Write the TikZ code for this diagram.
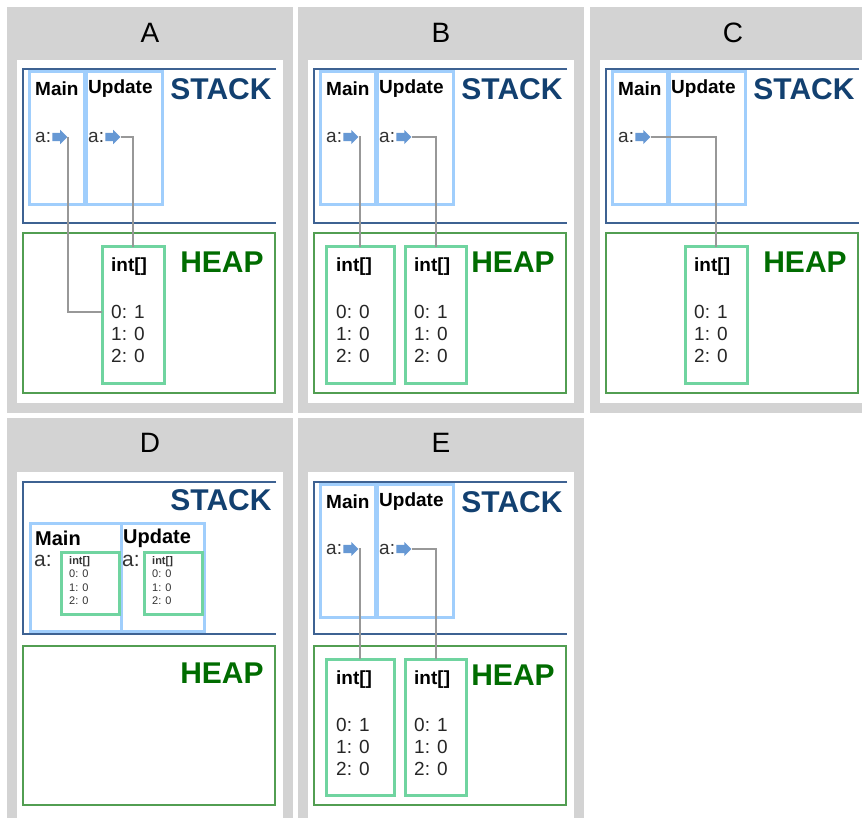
\documentclass[tikz,border=0pt]{standalone}
\usepackage{fontspec}
\setmainfont{Liberation Sans}
\usepackage{xcolor}
\usetikzlibrary{shapes,arrows,positioning,calc}
\definecolor{panelgray}{RGB}{211,211,211}
\definecolor{stackline}{RGB}{62,98,146}
\definecolor{stacktext}{RGB}{18,64,112}
\definecolor{framelight}{RGB}{160,206,252}
\definecolor{heapline}{RGB}{82,158,82}
\definecolor{heaptext}{RGB}{0,108,0}
\definecolor{intgreen}{RGB}{112,212,160}
\definecolor{ptrgray}{RGB}{152,152,152}
\definecolor{ptrblue}{RGB}{102,152,212}

\begin{document}
\begin{tikzpicture}[
    x=1pt, y=-1pt,
    panelbg/.style={fill=panelgray},
    paneltitle/.style={font=\fontsize{28}{32}\selectfont, inner sep=0},
    stackbox/.style={draw=stackline, line width=2pt},
    heapbox/.style={draw=heapline, line width=2pt},
    stacklbl/.style={font=\fontsize{30}{34}\selectfont\bfseries, text=stacktext, inner sep=0},
    heaplbl/.style={font=\fontsize{30}{34}\selectfont\bfseries, text=heaptext, inner sep=0},
    frame/.style={rectangle, draw=framelight, line width=3pt, outer sep=0},
    framelbl/.style={font=\fontsize{19}{22}\selectfont\bfseries, inner sep=0, anchor=west},
    varlbl/.style={font=\fontsize{19}{22}\selectfont, inner sep=0, anchor=west, text=black!80},
    ptrarrow/.style={single arrow, fill=ptrblue, draw=none, inner sep=0pt, text width=0pt, text height=4pt, text depth=4pt, minimum height=15pt, single arrow head extend=3pt},
    intbox/.style={rectangle, draw=intgreen, line width=3pt, outer sep=0, minimum height=136pt},
    intlbl/.style={font=\fontsize{19}{22}\selectfont\bfseries, inner sep=0, anchor=west},
    cell/.style={font=\fontsize{19}{22}\selectfont, inner sep=0, anchor=west, text=black!85},
    minibox/.style={rectangle, draw=intgreen, line width=3pt, outer sep=0, minimum width=58pt, minimum height=62pt},
    minicell/.style={font=\fontsize{11}{13.5}\selectfont, inner sep=0, anchor=north west, align=left, text=black!80},
    ptr/.style={draw=ptrgray, line width=2pt}
]
\useasboundingbox (0,0) rectangle (862,818);
\clip (0,0) rectangle (862,818);
\fill[white] (0,0) rectangle (862,818);

% ---------------- Panel A ----------------
\begin{scope}[shift={(7,7)}]
\fill[panelbg] (0,0) rectangle (286,406);
\fill[white] (10,53) rectangle (276,396);
\node[paneltitle] (titleA) at (143,26) {A};
% Stack
\draw[stackbox] (269,62) -- (16,62) -- (16,216) -- (269,216);
\node[stacklbl] (stackA) at (214,82) {STACK};
\node[frame, minimum width=55pt, minimum height=133pt] (mainA) at (49.5,131.5) {};
\node[frame, minimum width=76pt, minimum height=133pt] (updA) at (117,131.5) {};
\node[framelbl] (mainlblA) at (28,82) {Main};
\node[framelbl] (updlblA) at (81,82) {Update};
\node[varlbl] (varA1) at (28,130) {a:};
\node[ptrarrow, right=1pt of varA1] (ptrA1) {};
\node[varlbl] (varA2) at (81,130) {a:};
\node[ptrarrow, right=1pt of varA2] (ptrA2) {};
% Heap
\draw[heapbox] (16,226) rectangle (268,386);
\node[heaplbl] (heapA) at (215,255) {HEAP};
\node[intbox, minimum width=62pt] (intA) at (126,308) {};
\node[intlbl] (typA) at (104,260) {int[]};
\node[cell] (row0A) at (104,305) {0: 1};
\node[cell] (row1A) at (104,327) {1: 0};
\node[cell] (row2A) at (104,349) {2: 0};
% References
\draw[ptr] (ptrA1.east) |- (intA.west |- row0A);
\draw[ptr] (ptrA2.east) -| (intA.north);
\end{scope}

% ---------------- Panel B ----------------
\begin{scope}[shift={(298,7)}]
\fill[panelbg] (0,0) rectangle (286,406);
\fill[white] (10,53) rectangle (276,396);
\node[paneltitle] (titleB) at (143,26) {B};
% Stack
\draw[stackbox] (269,62) -- (16,62) -- (16,216) -- (269,216);
\node[stacklbl] (stackB) at (214,82) {STACK};
\node[frame, minimum width=55pt, minimum height=133pt] (mainB) at (49.5,131.5) {};
\node[frame, minimum width=76pt, minimum height=133pt] (updB) at (117,131.5) {};
\node[framelbl] (mainlblB) at (28,82) {Main};
\node[framelbl] (updlblB) at (81,82) {Update};
\node[varlbl] (varB1) at (28,130) {a:};
\node[ptrarrow, right=1pt of varB1] (ptrB1) {};
\node[varlbl] (varB2) at (81,130) {a:};
\node[ptrarrow, right=1pt of varB2] (ptrB2) {};
% Heap
\draw[heapbox] (16,226) rectangle (268,386);
\node[heaplbl] (heapB) at (215,255) {HEAP};
\node[intbox, minimum width=68pt] (intB1) at (62,308) {};
\node[intlbl] (typB1) at (38,260) {int[]};
\node[cell] (row0B1) at (38,305) {0: 0};
\node[cell] (row1B1) at (38,327) {1: 0};
\node[cell] (row2B1) at (38,349) {2: 0};
\node[intbox, minimum width=61pt] (intB2) at (137.5,308) {};
\node[intlbl] (typB2) at (116,260) {int[]};
\node[cell] (row0B2) at (116,305) {0: 1};
\node[cell] (row1B2) at (116,327) {1: 0};
\node[cell] (row2B2) at (116,349) {2: 0};
% References
\draw[ptr] (ptrB1.east) -| (intB1.north);
\draw[ptr] (ptrB2.east) -| (intB2.north);
\end{scope}

% ---------------- Panel C ----------------
\begin{scope}[shift={(590,7)}]
\fill[panelbg] (0,0) rectangle (286,406);
\fill[white] (10,53) rectangle (276,396);
\node[paneltitle] (titleC) at (143,26) {C};
% Stack
\draw[stackbox] (269,62) -- (16,62) -- (16,216) -- (269,216);
\node[stacklbl] (stackC) at (214,82) {STACK};
\node[frame, minimum width=55pt, minimum height=133pt] (mainC) at (49.5,131.5) {};
\node[frame, minimum width=76pt, minimum height=133pt] (updC) at (117,131.5) {};
\node[framelbl] (mainlblC) at (28,82) {Main};
\node[framelbl] (updlblC) at (81,82) {Update};
\node[varlbl] (varC1) at (28,130) {a:};
\node[ptrarrow, right=1pt of varC1] (ptrC1) {};
% Heap
\draw[heapbox] (16,226) rectangle (268,386);
\node[heaplbl] (heapC) at (215,255) {HEAP};
\node[intbox, minimum width=62pt] (intC) at (126,308) {};
\node[intlbl] (typC) at (104,260) {int[]};
\node[cell] (row0C) at (104,305) {0: 1};
\node[cell] (row1C) at (104,327) {1: 0};
\node[cell] (row2C) at (104,349) {2: 0};
% References
\draw[ptr] (ptrC1.east) -| (intC.north);
\end{scope}

% ---------------- Panel D ----------------
\begin{scope}[shift={(7,418)}]
\fill[panelbg] (0,0) rectangle (286,406);
\fill[white] (10,54) rectangle (276,406);
\node[paneltitle] (titleD) at (143,25) {D};
% Stack
\draw[stackbox] (269,64) -- (16,64) -- (16,216) -- (269,216);
\node[stacklbl] (stackD) at (214,82) {STACK};
\node[frame, minimum width=91pt, minimum height=108pt] (mainD) at (68.5,159) {};
\node[frame, minimum width=83pt, minimum height=108pt] (updD) at (155.5,159) {};
\node[framelbl, font=\fontsize{20}{24}\selectfont\bfseries] (mainlblD) at (28,120) {Main};
\node[framelbl, font=\fontsize{20}{24}\selectfont\bfseries] (updlblD) at (116,120) {Update};
\node[varlbl, font=\fontsize{21}{24}\selectfont] (varD1) at (27,143) {a:};
\node[varlbl, font=\fontsize{21}{24}\selectfont] (varD2) at (115,143) {a:};
\node[minibox] (intD1) at (83,165) {};
\node[minicell, below right=4pt and 8pt of intD1.north west] (cellsD1) {\textbf{int[]}\\0: 0\\1: 0\\2: 0};
\node[minibox] (intD2) at (166,165) {};
\node[minicell, below right=4pt and 8pt of intD2.north west] (cellsD2) {\textbf{int[]}\\0: 0\\1: 0\\2: 0};
% Heap
\draw[heapbox] (16,228) rectangle (268,387);
\node[heaplbl] (heapD) at (215,255) {HEAP};
\end{scope}

% ---------------- Panel E ----------------
\begin{scope}[shift={(298,418)}]
\fill[panelbg] (0,0) rectangle (286,406);
\fill[white] (10,54) rectangle (276,406);
\node[paneltitle] (titleE) at (143,25) {E};
% Stack
\draw[stackbox] (269,64) -- (16,64) -- (16,216) -- (269,216);
\node[stacklbl] (stackE) at (214,84) {STACK};
\node[frame, minimum width=55pt, minimum height=133pt] (mainE) at (49.5,132.5) {};
\node[frame, minimum width=76pt, minimum height=133pt] (updE) at (117,132.5) {};
\node[framelbl] (mainlblE) at (28,84) {Main};
\node[framelbl] (updlblE) at (81,84) {Update};
\node[varlbl] (varE1) at (28,131) {a:};
\node[ptrarrow, right=1pt of varE1] (ptrE1) {};
\node[varlbl] (varE2) at (81,131) {a:};
\node[ptrarrow, right=1pt of varE2] (ptrE2) {};
% Heap
\draw[heapbox] (16,228) rectangle (268,387);
\node[heaplbl] (heapE) at (215,257) {HEAP};
\node[intbox, minimum width=68pt] (intE1) at (62,309) {};
\node[intlbl] (typE1) at (38,262) {int[]};
\node[cell] (row0E1) at (38,307) {0: 1};
\node[cell] (row1E1) at (38,329) {1: 0};
\node[cell] (row2E1) at (38,351) {2: 0};
\node[intbox, minimum width=61pt] (intE2) at (137.5,309) {};
\node[intlbl] (typE2) at (116,262) {int[]};
\node[cell] (row0E2) at (116,307) {0: 1};
\node[cell] (row1E2) at (116,329) {1: 0};
\node[cell] (row2E2) at (116,351) {2: 0};
% References
\draw[ptr] (ptrE1.east) -| (intE1.north);
\draw[ptr] (ptrE2.east) -| (intE2.north);
\end{scope}

\end{tikzpicture}
\end{document}
